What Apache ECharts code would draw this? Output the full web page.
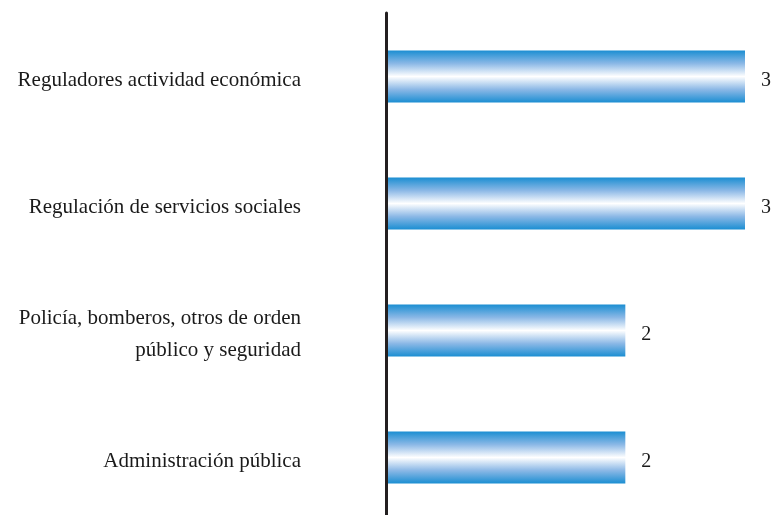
<!DOCTYPE html>
<html><head><meta charset="utf-8">
<script src="https://cdn.jsdelivr.net/npm/echarts@6/dist/echarts.min.js"></script>
<style>html,body{margin:0;padding:0;background:#fff}#c{width:776px;height:515px}</style>
</head><body><div id="c"></div>
<script>
const categories = ["Reguladores actividad económica","Regulación de servicios sociales","Policía, bomberos, otros de orden\npúblico y seguridad","Administración pública"];
const values = [3, 3, 2, 2];
const chart = echarts.init(document.getElementById('c'));
chart.setOption({
  animation:false,
  grid:{left:386,right:31,top:13,height:508,containLabel:false,outerBoundsMode:'none'},
  xAxis:{type:'value',min:0,max:3,show:false},
  yAxis:{type:'category',inverse:true,data:categories,z:5,
    axisLine:{lineStyle:{color:'#231f20',width:3}},
    axisTick:{show:false},
    axisLabel:{margin:85,align:'right',
      formatter:v=>'{s| }\n'+v.split('\n').map(t=>'{a|'+t+'}').join('\n'),
      rich:{
        s:{fontSize:4,lineHeight:7},
        a:{fontFamily:'Liberation Serif',fontSize:21,color:'#1a1a1a',lineHeight:32,align:'right'}
      }
    }
  },
  series:[{type:'bar',data:values,barWidth:52,
    itemStyle:{color:new echarts.graphic.LinearGradient(0,0,0,1,[
      {offset:0,color:'#1b8ed2'},{offset:0.25,color:'#8bb8e6'},{offset:0.5,color:'#ffffff'},{offset:0.75,color:'#8bb8e6'},{offset:1,color:'#1b8ed2'}])},
    label:{show:true,position:'right',distance:16,offset:[0,4],fontFamily:'Liberation Serif',fontSize:20,color:'#1a1a1a'}
  }]
});
</script></body></html>
